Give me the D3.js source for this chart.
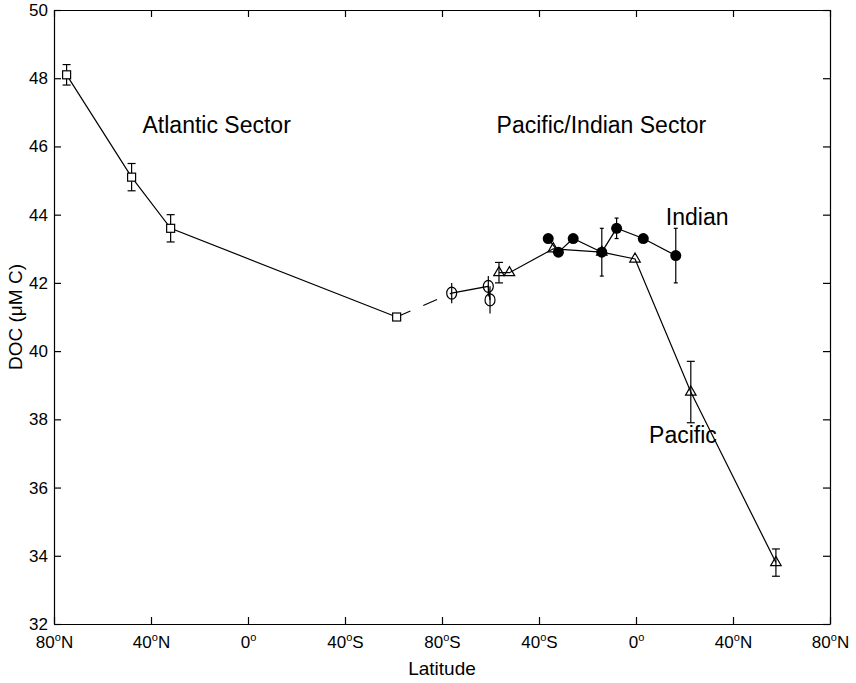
<!DOCTYPE html>
<html><head><meta charset="utf-8">
<script src="https://cdn.jsdelivr.net/npm/d3@7"></script>
<style>
body{margin:0;background:#fff;}
svg text{font-family:"Liberation Sans",Arial,Helvetica,sans-serif;fill:#000;}
</style>
</head><body>
<svg id="chart" width="856" height="683"></svg>
<script>
// ---- data (x = distance along the section in degrees of latitude, 0 = 80°N Atlantic) ----
const xTickValues = [0, 40, 80, 120, 160, 200, 240, 280, 320];
const xTickNumbers = ["80", "40", "0", "40", "80", "40", "0", "40", "80"];
const xTickHemis = ["N", "N", "", "S", "S", "S", "", "N", "N"];
const yTickValues = [32, 34, 36, 38, 40, 42, 44, 46, 48, 50];

const atlanticX = [5.2, 32.0, 48.1, 141.3];
const atlanticDOC = [48.1, 45.1, 43.6, 41.0];
const atlanticErr = [0.3, 0.4, 0.4, 0];

const southernX = [164.0, 179.1, 179.8];
const southernDOC = [41.7, 41.9, 41.5];
const southernErr = [0.3, 0.3, 0.4];

const pacificX = [183.5, 187.8, 205.9, 225.9, 239.6, 262.6, 297.7];
const pacificDOC = [42.3, 42.3, 43.0, 42.9, 42.7, 38.8, 33.8];
const pacificErr = [0.3, 0, 0, 0, 0, 0.9, 0.4];

const indianX = [203.8, 208.0, 214.1, 225.9, 232.0, 243.0, 256.4];
const indianDOC = [43.3, 42.9, 43.3, 42.9, 43.6, 43.3, 42.8];
const indianErr = [0, 0, 0, 0.7, 0.3, 0, 0.8];

const annotations = [
  {text: "Atlantic Sector", x: 36.5, y: 46.4},
  {text: "Pacific/Indian Sector", x: 182.5, y: 46.4},
  {text: "Indian", x: 252.3, y: 43.7},
  {text: "Pacific", x: 245.4, y: 37.3}
];

// ---- drawing ----
const svg = d3.select("#chart");
const L = 54, R = 830, T = 10, B = 624;
const x = d3.scaleLinear().domain([0, 320]).range([L, R]);
const y = d3.scaleLinear().domain([32, 50]).range([B, T]);
const zip = (xs, ys, es) => xs.map((v, i) => ({x: v, y: ys[i], e: es ? es[i] : 0}));

const atl = zip(atlanticX, atlanticDOC, atlanticErr);
const sou = zip(southernX, southernDOC, southernErr);
const pac = zip(pacificX, pacificDOC, pacificErr);
const ind = zip(indianX, indianDOC, indianErr);

// axes
const tickFont = "17px";
const gB = svg.append("g").attr("transform", `translate(0,${B})`)
  .call(d3.axisBottom(x).tickValues(xTickValues).tickSizeInner(-7).tickSizeOuter(0).tickPadding(12).tickFormat(""));
gB.selectAll(".tick text").each(function(d, i) {
  const t = d3.select(this).attr("font-size", tickFont);
  t.append("tspan").text(xTickNumbers[i]);
  t.append("tspan").attr("font-size", "11px").attr("dy", "-7").text("o");
  t.append("tspan").attr("dy", "7").text(xTickHemis[i]);
});
svg.append("g").attr("transform", `translate(0,${T})`)
  .call(d3.axisTop(x).tickValues(xTickValues).tickSizeInner(-7).tickSizeOuter(0).tickFormat(""));
svg.append("g").attr("transform", `translate(${L},0)`)
  .call(d3.axisLeft(y).tickValues(yTickValues).tickSizeInner(-7).tickSizeOuter(0).tickPadding(6).tickFormat(d3.format("d")))
  .selectAll(".tick text").attr("font-size", tickFont);
svg.append("g").attr("transform", `translate(${R},0)`)
  .call(d3.axisRight(y).tickValues(yTickValues).tickSizeInner(-7).tickSizeOuter(0).tickFormat(""));
svg.selectAll(".domain, .tick line").attr("stroke", "#000").attr("stroke-width", 1.2);
svg.selectAll(".tick text").attr("fill", "#000").attr("font-family", null);

// axis titles
svg.append("text").attr("x", (L + R) / 2).attr("y", 675).attr("text-anchor", "middle")
  .attr("font-size", "19px").text("Latitude");
svg.append("text").attr("transform", `translate(22,${(T + B) / 2}) rotate(-90)`).attr("text-anchor", "middle")
  .attr("font-size", "19px").text("DOC (\u03BCM C)");

// lines
const line = d3.line().x(d => x(d.x)).y(d => y(d.y));
const lineStyle = sel => sel.attr("fill", "none").attr("stroke", "#000").attr("stroke-width", 1.2);
svg.append("path").datum(atl).attr("d", line).call(lineStyle);
svg.append("path").datum([atl[atl.length - 1], sou[0]]).attr("d", line).call(lineStyle)
  .attr("stroke-dasharray", "15,14");
svg.append("path").datum(sou).attr("d", line).call(lineStyle);
svg.append("path").datum(pac).attr("d", line).call(lineStyle);
svg.append("path").datum(ind).attr("d", line).call(lineStyle);

// error bars
function errorBars(data, cap) {
  const g = svg.append("g").attr("stroke", "#000").attr("stroke-width", 1.2);
  data.filter(d => d.e > 0).forEach(d => {
    g.append("line").attr("x1", x(d.x)).attr("x2", x(d.x)).attr("y1", y(d.y - d.e)).attr("y2", y(d.y + d.e));
    if (cap > 0) {
      g.append("line").attr("x1", x(d.x) - cap).attr("x2", x(d.x) + cap).attr("y1", y(d.y - d.e)).attr("y2", y(d.y - d.e));
      g.append("line").attr("x1", x(d.x) - cap).attr("x2", x(d.x) + cap).attr("y1", y(d.y + d.e)).attr("y2", y(d.y + d.e));
    }
  });
}
errorBars(atl, 4);
errorBars(sou, 0);
errorBars(pac, 4);
errorBars(ind, 2);

// markers
svg.append("g").selectAll("rect").data(atl).join("rect")
  .attr("x", d => x(d.x) - 4).attr("y", d => y(d.y) - 4).attr("width", 8).attr("height", 8)
  .attr("fill", "#fff").attr("stroke", "#000").attr("stroke-width", 1.2);
svg.append("g").selectAll("ellipse").data(sou).join("ellipse")
  .attr("cx", d => x(d.x)).attr("cy", d => y(d.y)).attr("rx", 5).attr("ry", 6)
  .attr("fill", "none").attr("stroke", "#000").attr("stroke-width", 1.2);
const tri = d3.symbol().type(d3.symbolTriangle).size(48);
svg.append("g").selectAll("path").data(pac).join("path")
  .attr("transform", d => `translate(${x(d.x)},${y(d.y)})`).attr("d", tri)
  .attr("fill", "none").attr("stroke", "#000").attr("stroke-width", 1.2);
svg.append("g").selectAll("circle").data(ind).join("circle")
  .attr("cx", d => x(d.x)).attr("cy", d => y(d.y)).attr("r", 5.5).attr("fill", "#000");

// annotations
svg.append("g").selectAll("text").data(annotations).join("text")
  .attr("x", d => x(d.x)).attr("y", d => y(d.y)).attr("font-size", "23px").text(d => d.text);
</script>
</body></html>
